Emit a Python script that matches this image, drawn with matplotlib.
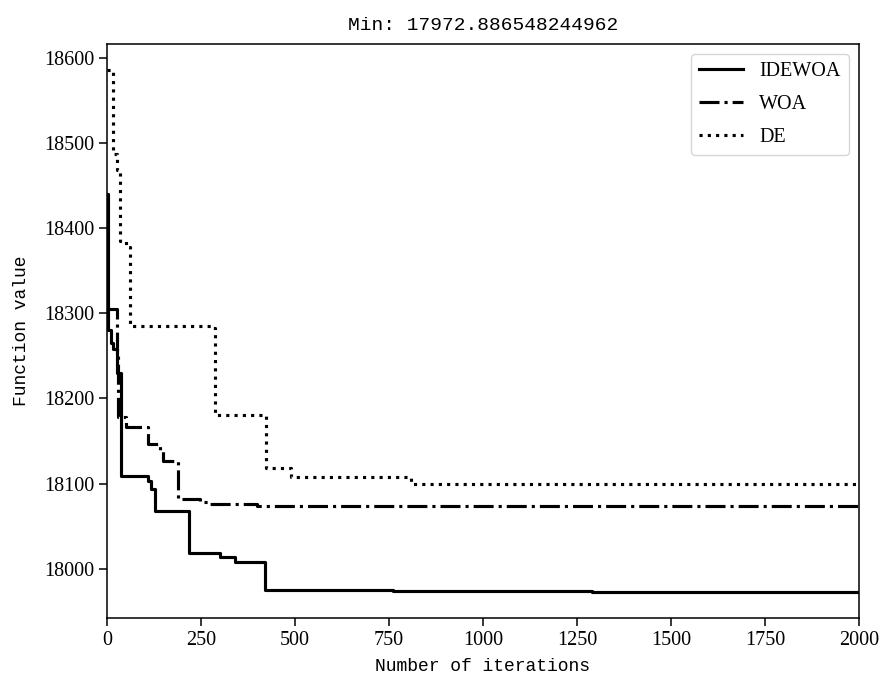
import numpy as np
import matplotlib
matplotlib.use('Agg')
import matplotlib.pyplot as plt

# step points (iteration where the value changes, value)
idewoa_it = [0, 2, 12, 17, 28, 38, 108, 116, 128, 218, 300, 340, 420, 760, 1290, 2000]
idewoa_val = [18440, 18280, 18265, 18258, 18230, 18109, 18103, 18094, 18068, 18019,
              18014, 18008, 17975, 17974, 17973, 17972.886548244962]

woa_it = [0, 28, 30, 50, 109, 140, 148, 188, 247, 274, 400, 2000]
woa_val = [18305, 18255, 18178, 18166, 18147, 18140, 18127, 18082, 18079, 18076, 18074, 18073]

de_it = [0, 16, 27, 35, 50, 62, 283, 288, 423, 490, 808, 2000]
de_val = [18585, 18487, 18468, 18385, 18378, 18285, 18283, 18180, 18118, 18108, 18100, 18100]

labels = ['IDEWOA', 'WOA', 'DE']
min_val = 17972.886548244962

plt.rcParams['font.family'] = 'Liberation Serif'

fig = plt.figure(figsize=(8.91, 6.81), dpi=100)
ax = fig.add_axes([0.120, 0.0925, 0.844, 0.8425])

lw = 2.25
ax.step(idewoa_it, idewoa_val, where='post', color='black', linestyle='-', linewidth=lw, label=labels[0])
ax.step(woa_it, woa_val, where='post', color='black', linestyle='-.', linewidth=lw, label=labels[1])
ax.step(de_it, de_val, where='post', color='black', linestyle=':', linewidth=lw, label=labels[2])

ax.set_xlim(0, 2000)
ax.set_xticks(np.arange(0, 2001, 250))
ax.tick_params(labelsize=14.5, length=5.5, width=1.1)
for s in ax.spines.values():
    s.set_linewidth(1.1)

ax.set_title('Min: ' + str(min_val), fontsize=14, family='Liberation Mono', pad=10)
ax.set_xlabel('Number of iterations', fontsize=13, family='Liberation Mono', labelpad=6)
ax.set_ylabel('Function value', fontsize=13, family='Liberation Mono', labelpad=10)

ax.legend(loc='upper right', fontsize=14.5, handlelength=2.2, labelspacing=0.68)

fig.savefig('out.png', dpi=100)
